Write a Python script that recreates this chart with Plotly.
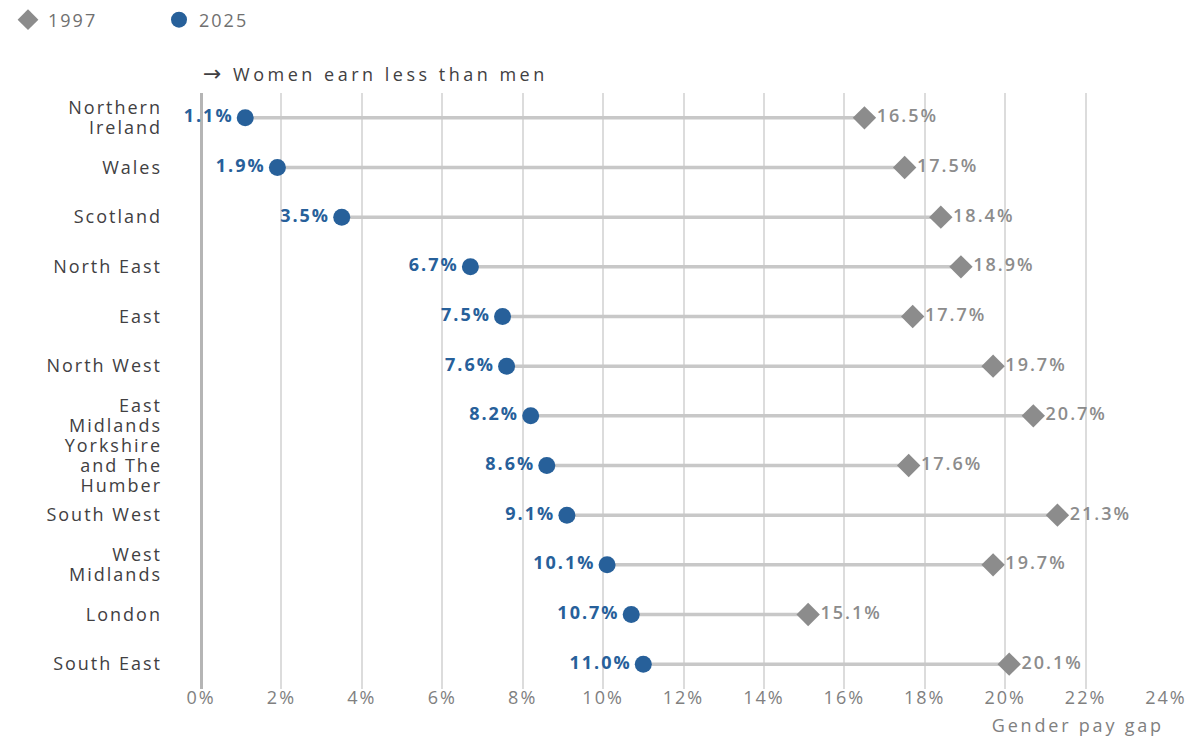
import plotly.graph_objects as go

regions = ["Northern<br>Ireland", "Wales", "Scotland", "North East", "East", "North West",
           "East<br>Midlands", "Yorkshire<br>and The<br>Humber", "South West",
           "West<br>Midlands", "London", "South East"]
gap_2025 = [1.1, 1.9, 3.5, 6.7, 7.5, 7.6, 8.2, 8.6, 9.1, 10.1, 10.7, 11.0]
gap_1997 = [16.5, 17.5, 18.4, 18.9, 17.7, 19.7, 20.7, 17.6, 21.3, 19.7, 15.1, 20.1]
tick_vals = [0, 2, 4, 6, 8, 10, 12, 14, 16, 18, 20, 22, 24]
tick_text = [f"{v}%" for v in tick_vals]

BLUE = "#27609a"
GREY = "#8c8c8c"
FONT = "Open Sans"
FS = 18

fig = go.Figure()

lx, ly = [], []
for r, a, b in zip(regions, gap_2025, gap_1997):
    lx += [a, b, None]
    ly += [r, r, None]
fig.add_trace(go.Scatter(x=lx, y=ly, mode="lines", line=dict(color="#c8c8c8", width=3.5),
                         showlegend=False, hoverinfo="skip", cliponaxis=False))

fig.add_trace(go.Scatter(
    x=gap_1997, y=regions, mode="markers+text", name="1997", cliponaxis=False,
    marker=dict(symbol="diamond", size=18, color=GREY),
    text=[f"{v:.1f}%" for v in gap_1997], textposition="middle right",
    textfont=dict(family=FONT, size=FS, color=GREY, weight=600),
))
fig.add_trace(go.Scatter(
    x=gap_2025, y=regions, mode="markers+text", name="2025", cliponaxis=False,
    marker=dict(symbol="circle", size=17, color=BLUE),
    text=[f"<b>{v:.1f}%</b>" for v in gap_2025], textposition="middle left",
    textfont=dict(family=FONT, size=FS, color=BLUE),
))

fig.update_layout(
    width=1194, height=728,
    margin=dict(l=193, r=36, t=85, b=47, autoexpand=False),
    paper_bgcolor="white", plot_bgcolor="white",
    font=dict(family=FONT, size=FS, color="#414042"),
    legend=dict(orientation="h", xref="container", yref="container",
                x=0, xanchor="left", y=0.9835, yanchor="middle",
                font=dict(size=FS, color="#707070"), entrywidth=106, itemwidth=30,
                traceorder="normal"),
    xaxis=dict(range=[0, 24], tickvals=tick_vals, ticktext=tick_text,
               showgrid=True, gridcolor="#dcdcdc", gridwidth=1.5,
               zeroline=True, zerolinecolor="#b5b5b5", zerolinewidth=3,
               tickfont=dict(size=FS, color="#808080"), showline=False,
               ticks="", ticklabelstandoff=-4, fixedrange=True, automargin=False),
    yaxis=dict(categoryorder="array", categoryarray=regions, range=[11.5, -0.5],
               showgrid=False, zeroline=False, showline=False, ticks="",
               ticklabelstandoff=38, automargin=False,
               tickfont=dict(size=FS, color="#414042")),
    annotations=[
        dict(text="<span style='font-family:DejaVu Sans;font-size:22px'>\u2192</span> Women earn less than men",
             x=0, xref="paper", xanchor="left",
             y=1.032, yref="paper", yanchor="middle", showarrow=False,
             font=dict(size=FS, color="#414042")),
        dict(text="Gender pay gap", x=1, xref="paper", xanchor="right",
             y=-0.06, yref="paper", yanchor="middle", showarrow=False,
             font=dict(size=FS, color="#808080")),
    ],
)

post = """
var FS = 18, LH = 1.1;
document.querySelectorAll('.ytick text').forEach(function(t){
  var lines = t.querySelectorAll('tspan.line');
  if (lines.length > 1) {
    lines.forEach(function(s, i){ s.setAttribute('dy', (i * LH) + 'em'); });
    var shift = (lines.length - 1) * (1.3 - LH) * FS / 2;
    var tr = t.getAttribute('transform') || '';
    t.setAttribute('transform', tr + ' translate(0,' + shift + ')');
  }
});
var ann = document.querySelectorAll('.annotation');
document.querySelectorAll('.main-svg text').forEach(function(t){
  var ls = '2px';
  var a = t.closest('.annotation');
  var idx = -1;
  if (a) { idx = Array.prototype.indexOf.call(ann, a); ls = (idx === 0) ? '3.5px' : '2.8px'; }
  var b0 = t.getBBox();
  t.style.letterSpacing = ls;
  if (a) {
    var b1 = t.getBBox();
    var dx = (idx === 0) ? (b0.x - b1.x) : ((b0.x + b0.width) - (b1.x + b1.width));
    t.setAttribute('transform', 'translate(' + dx + ',0)');
  }
});
"""
fig.write_html("out.html", post_script=post)
